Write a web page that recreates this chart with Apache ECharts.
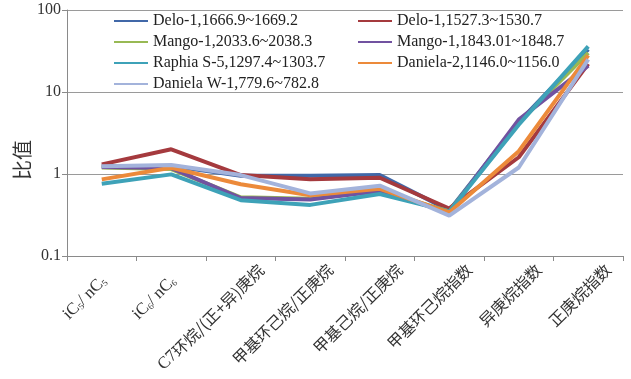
<!DOCTYPE html>
<html>
<head>
<meta charset="utf-8">
<script src="https://cdn.jsdelivr.net/npm/echarts@6/dist/echarts.min.js"></script>
<style>
  html, body { margin: 0; padding: 0; background: #fff; }
  #chart { width: 631px; height: 379px; }
</style>
</head>
<body>
<div id="chart"></div>
<script>
// Light-hydrocarbon ratio parameters per sample
const categories = [
  '{r|iC}{s|5}{r|/ nC}{s|5}{gap|}',
  '{r|iC}{s|6}{r|/ nC}{s|6}{gap|}',
  '{r|C7}环烷/(正+异)庚烷',
  '甲基环己烷/正庚烷',
  '甲基己烷/正庚烷',
  '甲基环己烷指数',
  '异庚烷指数',
  '正庚烷指数'
];

const seriesNames = [
  'Delo-1,1666.9~1669.2',
  'Delo-1,1527.3~1530.7',
  'Mango-1,2033.6~2038.3',
  'Mango-1,1843.01~1848.7',
  'Raphia S-5,1297.4~1303.7',
  'Daniela-2,1146.0~1156.0',
  'Daniela W-1,779.6~782.8'
];

const delo1666 = [1.25, 1.25, 0.95, 0.95, 0.97, 0.36, 4.3, 33];
const delo1527 = [1.31, 2.0, 0.97, 0.86, 0.90, 0.38, 1.6, 22];
const mango2033 = [1.2, 1.15, 0.52, 0.50, 0.62, 0.35, 4.2, 30];
const mango1843 = [1.22, 1.18, 0.51, 0.49, 0.62, 0.34, 4.6, 21];
const raphia = [0.76, 0.99, 0.48, 0.42, 0.57, 0.35, 4.0, 36];
const daniela2 = [0.86, 1.19, 0.75, 0.55, 0.66, 0.34, 1.9, 28];
const danielaW1 = [1.24, 1.29, 0.97, 0.58, 0.72, 0.31, 1.2, 25];

const seriesValues = [delo1666, delo1527, mango2033, mango1843, raphia, daniela2, danielaW1];
const colors = ['#4168a8', '#a53a3e', '#98b954', '#7152a0', '#3ea2b8', '#ec8a3a', '#a3b3db'];

// the two formula labels sit a little differently along the axis than the Chinese ones
const formulaLabelStyle = { padding: [24, -11, 0, 0] };
const categoryItems = categories.map((c, i) =>
  i < 2 ? { value: c, textStyle: formulaLabelStyle } : c
);

const chart = echarts.init(document.getElementById('chart'));

const legendText = { fontFamily: 'Liberation Serif', fontSize: 16, color: '#222', lineHeight: 15 };
const legendCommon = {
  orient: 'vertical',
  top: 8,
  itemWidth: 34,
  itemHeight: 2,
  itemGap: 5,
  icon: 'rect',
  textStyle: legendText,
  selectedMode: false
};

chart.setOption({
  animation: false,
  color: colors,
  grid: { left: 67, right: 8, top: 10, bottom: 123 },
  legend: [
    Object.assign({ left: 109, data: [seriesNames[0], seriesNames[2], seriesNames[4], seriesNames[6]] }, legendCommon),
    Object.assign({ left: 353, data: [seriesNames[1], seriesNames[3], seriesNames[5]] }, legendCommon)
  ],
  graphic: [{
    type: 'text',
    x: 22, y: 160,
    rotation: Math.PI / 2,
    style: {
      text: '比值',
      fontFamily: 'Noto Sans CJK SC',
      fontSize: 20,
      fill: '#333',
      align: 'center',
      verticalAlign: 'middle'
    }
  }],
  xAxis: {
    type: 'category',
    data: categoryItems,
    boundaryGap: true,
    axisLine: { lineStyle: { color: '#8a8a8a', width: 1 } },
    axisTick: { show: true, length: 5, lineStyle: { color: '#8a8a8a' } },
    axisLabel: {
      interval: 0,
      rotate: 45,
      margin: 8,
      align: 'right',
      verticalAlign: 'top',
      padding: [8, -12, 0, 0],
      fontFamily: 'Noto Sans CJK SC',
      fontSize: 16,
      color: '#333',
      rich: {
        r: { fontFamily: 'Liberation Serif', fontSize: 17, color: '#333' },
        s: { fontFamily: 'Liberation Serif', fontSize: 9, color: '#333', verticalAlign: 'bottom', padding: [7, 0, 0, 0] },
        gap: { width: 20 }
      }
    }
  },
  yAxis: {
    type: 'log',
    logBase: 10,
    min: 0.1,
    max: 100,
    axisLine: { show: true, lineStyle: { color: '#8a8a8a', width: 1 } },
    axisTick: { show: true, length: 5, lineStyle: { color: '#8a8a8a' } },
    splitLine: { lineStyle: { color: '#9a9a9a', width: 1 } },
    axisLabel: {
      fontFamily: 'Liberation Serif',
      fontSize: 16,
      color: '#333',
      margin: 6,
      formatter: v => String(v)
    }
  },
  series: seriesNames.map((name, i) => ({
    name: name,
    type: 'line',
    data: seriesValues[i],
    symbol: 'none',
    lineStyle: { width: 4, color: colors[i] },
    itemStyle: { color: colors[i] }
  }))
});
</script>
</body>
</html>
